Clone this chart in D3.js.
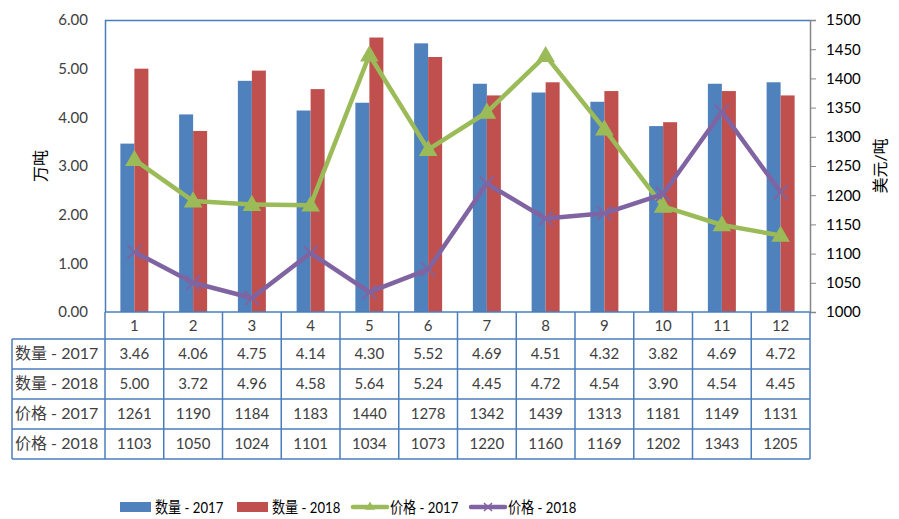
<!DOCTYPE html>
<html><head><meta charset="utf-8">
<script src="https://cdn.jsdelivr.net/npm/d3@7"></script>
<style>body{margin:0;background:#fff}svg{display:block}text{font-family:Lato,"Noto Sans CJK SC",sans-serif}</style>
</head><body><svg id="c" width="899" height="519"></svg>
<script>
const categories = ["1","2","3","4","5","6","7","8","9","10","11","12"];
const qty2017 = [3.46,4.06,4.75,4.14,4.30,5.52,4.69,4.51,4.32,3.82,4.69,4.72];
const qty2018 = [5.00,3.72,4.96,4.58,5.64,5.24,4.45,4.72,4.54,3.90,4.54,4.45];
const price2017 = [1261,1190,1184,1183,1440,1278,1342,1439,1313,1181,1149,1131];
const price2018 = [1103,1050,1024,1101,1034,1073,1220,1160,1169,1202,1343,1205];
const leftTicks = [0,1,2,3,4,5,6];
const rightTicks = [1000,1050,1100,1150,1200,1250,1300,1350,1400,1450,1500];
const seriesNames = ["数量 - 2017","数量 - 2018","价格 - 2017","价格 - 2018"];
const colors = ["#4f81bd","#c0504d","#9bbb59","#8064a2"];

const svg = d3.select("#c");
const L=105, R=810, T=20, B=312;
const x = d3.scaleBand().domain(categories).range([L,R]);
const yL = d3.scaleLinear().domain([0,6]).range([B,T]);
const yR = d3.scaleLinear().domain([1000,1500]).range([B,T]);
const bw = 14;

// bars
[qty2017, qty2018].forEach((arr,si)=>{
  svg.append("g").selectAll("rect").data(arr).join("rect")
    .attr("x",(d,i)=>x(categories[i])+x.bandwidth()/2 - bw + si*bw)
    .attr("y",d=>yL(d)).attr("width",bw).attr("height",d=>B-yL(d))
    .attr("fill",colors[si]);
});

// plot frame (top + left) blue
svg.append("line").attr("x1",L).attr("x2",R).attr("y1",T+0.5).attr("y2",T+0.5).attr("stroke","#4a7ebb").attr("stroke-width",1.5);
svg.append("line").attr("x1",L+0.5).attr("x2",L+0.5).attr("y1",T).attr("y2",B).attr("stroke","#4a7ebb").attr("stroke-width",1.5);

// right axis
const ra = svg.append("g").attr("transform",`translate(${R},0)`)
  .call(d3.axisRight(yR).tickValues(rightTicks).tickFormat(d3.format("d")).tickSize(6).tickPadding(10));
ra.select(".domain").attr("stroke","#868686").attr("stroke-width",1.5);
ra.selectAll(".tick line").attr("stroke","#868686");
ra.selectAll("text").attr("font-size",15).attr("fill","#000");

// left axis labels
const la = svg.append("g").attr("transform",`translate(${L},0)`)
  .call(d3.axisLeft(yL).tickValues(leftTicks).tickFormat(d3.format(".2f")).tickSize(0).tickPadding(17));
la.select(".domain").remove();
la.selectAll("text").attr("font-size",15).attr("fill","#404040");

// axis titles
svg.append("text").attr("transform","translate(46,166) rotate(-90)").attr("text-anchor","middle")
  .attr("font-size",16).attr("fill","#000").text("万吨");
svg.append("text").attr("transform","translate(886,166) rotate(-90)").attr("text-anchor","middle")
  .attr("font-size",16).attr("fill","#000").text("美元/吨");

// lines
const cx = i => x(categories[i]) + x.bandwidth()/2;
[price2017, price2018].forEach((arr,si)=>{
  const line = d3.line().x((d,i)=>cx(i)).y(d=>yR(d));
  svg.append("path").datum(arr).attr("d",line).attr("fill","none")
    .attr("stroke",colors[2+si]).attr("stroke-width",4.5).attr("stroke-linejoin","round");
});
// markers
svg.append("g").selectAll("path").data(price2017).join("path")
  .attr("d",d3.symbol(d3.symbolTriangle,150))
  .attr("transform",(d,i)=>`translate(${cx(i)},${yR(d)+1})`).attr("fill",colors[2]);
svg.append("g").selectAll("path").data(price2018).join("path")
  .attr("d",(d)=>"M-7,-7L7,7M-7,7L7,-7")
  .attr("transform",(d,i)=>`translate(${cx(i)},${yR(d)})`).attr("stroke",colors[3]).attr("stroke-width",2);

// data table
const tc = "#4a7ebb";
const rowH = 30, headTop = B, headBot = 339;
const rowsData = [qty2017.map(d=>d.toFixed(2)), qty2018.map(d=>d.toFixed(2)), price2017.map(String), price2018.map(String)];
const tbl = svg.append("g");
const tableBottom = headBot + rowH*4;
tbl.append("line").attr("x1",L).attr("x2",R).attr("y1",B).attr("y2",B).attr("stroke",tc).attr("stroke-width",1.5);
for(let r=0;r<=4;r++){
  tbl.append("line").attr("x1",12).attr("x2",R).attr("y1",headBot+r*rowH).attr("y2",headBot+r*rowH).attr("stroke",tc).attr("stroke-width",1.5);
}
tbl.append("line").attr("x1",12).attr("x2",12).attr("y1",headBot).attr("y2",tableBottom).attr("stroke",tc).attr("stroke-width",1.5);
categories.forEach((c,i)=>{
  tbl.append("line").attr("x1",x(c)).attr("x2",x(c)).attr("y1",B).attr("y2",tableBottom).attr("stroke",tc).attr("stroke-width",1.5);
});
tbl.append("line").attr("x1",R).attr("x2",R).attr("y1",B).attr("y2",tableBottom).attr("stroke",tc).attr("stroke-width",1.5);
tbl.selectAll("text.h").data(categories).join("text").attr("class","h")
  .attr("x",d=>x(d)+x.bandwidth()/2).attr("y",(headTop+headBot)/2+5).attr("text-anchor","middle")
  .attr("font-size",15).attr("fill","#404040").text(d=>d);
rowsData.forEach((row,r)=>{
  const yy = headBot + r*rowH + rowH/2 + 5;
  tbl.append("text").attr("x",15).attr("y",yy).attr("font-size",16).attr("fill","#404040").text(seriesNames[r]);
  tbl.append("g").selectAll("text").data(row).join("text")
    .attr("x",(d,i)=>x(categories[i])+x.bandwidth()/2).attr("y",yy).attr("text-anchor","middle")
    .attr("font-size",15).attr("fill","#404040").text(d=>d);
});

// legend
const lg = svg.append("g");
const ly = 507;
const items = [{x:120,t:"bar"},{x:237,t:"bar"},{x:353,t:"tri"},{x:471,t:"x"}];
items.forEach((it,i)=>{
  if(it.t==="bar"){
    lg.append("rect").attr("x",it.x).attr("y",ly-5).attr("width",31).attr("height",10).attr("fill",colors[i]);
  } else {
    lg.append("line").attr("x1",it.x).attr("x2",it.x+34).attr("y1",ly).attr("y2",ly).attr("stroke",colors[i]).attr("stroke-width",4.5).attr("stroke-linecap","round");
    if(it.t==="tri") lg.append("path").attr("d",d3.symbol(d3.symbolTriangle,40)).attr("transform",`translate(${it.x+17},${ly})`).attr("fill",colors[i]);
    else lg.append("path").attr("d","M-4,-4L4,4M-4,4L4,-4").attr("transform",`translate(${it.x+17},${ly})`).attr("stroke",colors[i]).attr("stroke-width",1.5);
  }
  const tx = it.x+(it.t==="bar"?35:37);
  lg.append("text").attr("transform",`translate(${tx},${ly+6}) scale(0.82,1)`).attr("font-size",16).attr("fill","#000").text(seriesNames[i]);
});
</script></body></html>
